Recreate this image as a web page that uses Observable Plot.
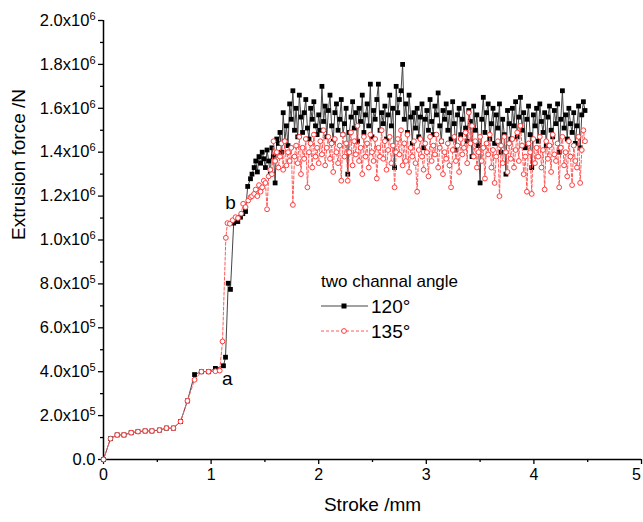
<!DOCTYPE html>
<html><head><meta charset="utf-8">
<script src="https://cdn.jsdelivr.net/npm/d3@7"></script>
<script src="https://cdn.jsdelivr.net/npm/@observablehq/plot@0.6"></script>
<style>
body{margin:0;background:#fff;font-family:"Liberation Sans",Arial,sans-serif;}
#wrap{position:relative;width:643px;height:522px;overflow:hidden;}
#legend{position:absolute;left:318px;top:266px;overflow:visible;}
</style></head><body><div id="wrap"></div>
<script>
// ---- data (stroke in mm, force in 10^6 N) ----
const strokeRamp120 = [0, 0.065, 0.127, 0.19, 0.257, 0.32, 0.387, 0.45, 0.52, 0.585, 0.65, 0.716, 0.78, 0.846, 0.91, 0.976, 1.04, 1.115, 1.134, 1.159, 1.18, 1.21, 1.248, 1.273, 1.295, 1.32, 1.34, 1.366, 1.38];
const forceRamp120 = [0, 0.095, 0.112, 0.112, 0.122, 0.127, 0.13, 0.13, 0.134, 0.143, 0.143, 0.173, 0.267, 0.387, 0.40, 0.40, 0.415, 0.427, 0.466, 0.803, 0.775, 1.077, 1.084, 1.104, 1.12, 1.13, 1.244, 1.279, 1.30];
const strokeRamp135 = [0, 0.065, 0.127, 0.19, 0.257, 0.32, 0.387, 0.45, 0.52, 0.585, 0.65, 0.716, 0.78, 0.846, 0.91, 0.976, 1.04, 1.08, 1.106, 1.137, 1.152, 1.174, 1.20, 1.227, 1.25, 1.28, 1.298, 1.32, 1.345, 1.366, 1.38];
const forceRamp135 = [0, 0.095, 0.112, 0.112, 0.122, 0.127, 0.13, 0.13, 0.134, 0.143, 0.143, 0.173, 0.267, 0.363, 0.40, 0.40, 0.402, 0.405, 0.538, 1.01, 1.077, 1.074, 1.09, 1.104, 1.10, 1.12, 1.165, 1.15, 1.18, 1.195, 1.20];
const strokePlateau = [
 1.400,1.415,1.430,1.445,1.460,1.475,1.490,1.505,1.520,1.535,
 1.550,1.565,1.580,1.595,1.610,1.625,1.640,1.655,1.670,1.685,
 1.700,1.715,1.730,1.745,1.760,1.775,1.790,1.805,1.820,1.835,
 1.850,1.865,1.880,1.895,1.910,1.925,1.940,1.955,1.970,1.985,
 2.000,2.015,2.030,2.045,2.060,2.075,2.090,2.105,2.120,2.135,
 2.150,2.165,2.180,2.195,2.210,2.225,2.240,2.255,2.270,2.285,
 2.300,2.315,2.330,2.345,2.360,2.375,2.390,2.405,2.420,2.435,
 2.450,2.465,2.480,2.495,2.510,2.525,2.540,2.555,2.570,2.585,
 2.600,2.615,2.630,2.645,2.660,2.675,2.690,2.705,2.720,2.735,
 2.750,2.765,2.780,2.795,2.810,2.825,2.840,2.855,2.870,2.885,
 2.900,2.915,2.930,2.945,2.960,2.975,2.990,3.005,3.020,3.035,
 3.050,3.065,3.080,3.095,3.110,3.125,3.140,3.155,3.170,3.185,
 3.200,3.215,3.230,3.245,3.260,3.275,3.290,3.305,3.320,3.335,
 3.350,3.365,3.380,3.395,3.410,3.425,3.440,3.455,3.470,3.485,
 3.500,3.515,3.530,3.545,3.560,3.575,3.590,3.605,3.620,3.635,
 3.650,3.665,3.680,3.695,3.710,3.725,3.740,3.755,3.770,3.785,
 3.800,3.815,3.830,3.845,3.860,3.875,3.890,3.905,3.920,3.935,
 3.950,3.965,3.980,3.995,4.010,4.025,4.040,4.055,4.070,4.085,
 4.100,4.115,4.130,4.145,4.160,4.175,4.190,4.205,4.220,4.235,
 4.250,4.265,4.280,4.295,4.310,4.325,4.340,4.355,4.370,4.385,
 4.400,4.415,4.430,4.445,4.460,4.475];
const forcePlateau120 = [
 1.33,1.36,1.31,1.38,1.35,1.40,1.37,1.33,1.41,1.36,
 1.30,1.42,1.38,1.26,1.46,1.44,1.49,1.40,1.58,1.45,
 1.52,1.43,1.62,1.55,1.68,1.50,1.60,1.47,1.66,1.56,
 1.49,1.58,1.64,1.51,1.46,1.60,1.55,1.63,1.52,1.48,
 1.57,1.50,1.70,1.54,1.61,1.47,1.59,1.66,1.52,1.45,
 1.58,1.62,1.50,1.55,1.64,1.48,1.53,1.60,1.30,1.49,
 1.56,1.63,1.51,1.58,1.45,1.60,1.54,1.66,1.49,1.57,
 1.62,1.52,1.71,1.47,1.59,1.55,1.64,1.71,1.50,1.58,
 1.53,1.61,1.46,1.57,1.66,1.52,1.60,1.33,1.70,1.58,
 1.64,1.68,1.80,1.55,1.62,1.49,1.66,1.56,1.44,1.58,
 1.51,1.60,1.47,1.56,1.62,1.42,1.55,1.59,1.50,1.64,
 1.54,1.48,1.61,1.57,1.67,1.52,1.45,1.59,1.55,1.62,
 1.50,1.58,1.46,1.63,1.53,1.41,1.57,1.60,1.48,1.55,
 1.62,1.51,1.45,1.59,1.54,1.38,1.61,1.50,1.57,1.43,
 1.26,1.55,1.65,1.49,1.58,1.62,1.46,1.53,1.60,1.44,
 1.57,1.51,1.62,1.40,1.55,1.48,1.30,1.59,1.53,1.46,
 1.60,1.52,1.63,1.47,1.56,1.65,1.50,1.58,1.42,1.55,
 1.61,1.48,1.33,1.57,1.52,1.60,1.45,1.62,1.54,1.49,
 1.58,1.43,1.56,1.61,1.50,1.47,1.59,1.53,1.62,1.40,
 1.55,1.68,1.51,1.57,1.46,1.60,1.53,1.49,1.58,1.44,
 1.52,1.61,1.42,1.57,1.63,1.59];
const forcePlateau135 = [
 1.21,1.23,1.20,1.25,1.22,1.24,1.27,1.26,1.14,1.29,
 1.32,1.30,1.45,1.36,1.40,1.33,1.38,1.44,1.32,1.45,
 1.34,1.40,1.36,1.42,1.16,1.38,1.43,1.35,1.47,1.30,
 1.42,1.37,1.46,1.24,1.40,1.44,1.33,1.48,1.38,1.42,
 1.35,1.45,1.39,1.50,1.34,1.42,1.47,1.37,1.44,1.31,
 1.46,1.40,1.35,1.43,1.27,1.48,1.38,1.44,1.27,1.40,
 1.49,1.34,1.45,1.39,1.52,1.36,1.42,1.30,1.47,1.38,
 1.44,1.33,1.48,1.40,1.36,1.46,1.28,1.42,1.38,1.50,
 1.37,1.45,1.32,1.41,1.47,1.35,1.43,1.24,1.40,1.46,
 1.39,1.50,1.34,1.44,1.36,1.48,1.31,1.42,1.38,1.45,
 1.35,1.22,1.41,1.46,1.38,1.32,1.44,1.40,1.29,1.47,
 1.36,1.43,1.39,1.48,1.33,1.42,1.45,1.30,1.40,1.37,
 1.44,1.34,1.24,1.41,1.47,1.36,1.43,1.31,1.46,1.39,
 1.42,1.49,1.35,1.58,1.44,1.52,1.38,1.45,1.33,1.40,
 1.47,1.36,1.42,1.28,1.44,1.39,1.48,1.33,1.41,1.26,
 1.38,1.45,1.20,1.43,1.35,1.47,1.40,1.31,1.44,1.37,
 1.46,1.33,1.41,1.49,1.36,1.52,1.43,1.30,1.38,1.22,
 1.44,1.40,1.21,1.46,1.35,1.42,1.38,1.47,1.33,1.41,
 1.23,1.45,1.37,1.43,1.31,1.48,1.39,1.36,1.44,1.24,
 1.42,1.47,1.34,1.40,1.29,1.45,1.38,1.25,1.43,1.36,
 1.33,1.47,1.26,1.41,1.50,1.45];
const xTicks = [0, 1, 2, 3, 4, 5];
const xMinorTicks = [0.5, 1.5, 2.5, 3.5, 4.5];
const yTicks = [0, 0.2, 0.4, 0.6, 0.8, 1.0, 1.2, 1.4, 1.6, 1.8, 2.0];
const yMinorTicks = [0.1, 0.3, 0.5, 0.7, 0.9, 1.1, 1.3, 1.5, 1.7, 1.9];
const seriesNames = ["120°", "135°"];
const legendTitle = "two channal angle";
const annotations = [{label: "a", x: 1.15, y: 0.368}, {label: "b", x: 1.18, y: 1.168}];
const xTitle = "Stroke /mm";
const yTitle = "Extrusion force /N";

// ---- build tables ----
const s120 = strokeRamp120.concat(strokePlateau);
const f120 = forceRamp120.concat(forcePlateau120);
const s135 = strokeRamp135.concat(strokePlateau);
const f135 = forceRamp135.concat(forcePlateau135);
const d120 = s120.map((x, i) => ({x, y: f120[i]}));
const d135 = s135.map((x, i) => ({x, y: f135[i]}));

const yFmt = v => v === 0 ? "0.0" : v >= 1 ? `${v.toFixed(1)}x10^6` : `${(v * 10).toFixed(1)}x10^5`;

const chart = Plot.plot({
  width: 643, height: 522,
  marginLeft: 103, marginRight: 2, marginTop: 20, marginBottom: 63,
  style: {fontFamily: "'Liberation Sans', Arial, sans-serif", fontSize: "15px", color: "#000", background: "#fff", overflow: "visible"},
  x: {domain: [0, 5]},
  y: {domain: [0, 2]},
  marks: [
    Plot.axisX(xTicks, {tickSize: 5, tickPadding: 4, strokeWidth: 1.3, fontSize: 16, tickFormat: d => String(d), label: null}),
    Plot.axisX(xMinorTicks, {tickSize: 3, strokeWidth: 1.3, tickFormat: () => "", label: null}),
    Plot.axisY(yTicks, {tickSize: 5, tickPadding: 3, strokeWidth: 1.3, fontSize: 16.5, tickFormat: yFmt, label: null}),
    Plot.axisY(yMinorTicks, {tickSize: 3, strokeWidth: 1.3, tickFormat: () => "", label: null}),
    Plot.ruleX([0], {stroke: "#000", strokeWidth: 1.5}),
    Plot.ruleY([0], {stroke: "#000", strokeWidth: 1.5}),
    Plot.line(d120, {x: "x", y: "y", stroke: "#444", strokeWidth: 1}),
    Plot.dot(d120, {x: "x", y: "y", symbol: "square", r: 2.7, fill: "#000", stroke: "none"}),
    Plot.line(d135, {x: "x", y: "y", stroke: "#ff5a5a", strokeWidth: 1, strokeDasharray: "3,2"}),
    Plot.dot(d135, {x: "x", y: "y", r: 2.4, fill: "#fff", stroke: "#ff3c3c", strokeWidth: 1}),
    Plot.text(annotations, {x: "x", y: "y", text: "label", fontSize: 19, fill: "#000"}),
    Plot.text([xTitle], {frameAnchor: "bottom", dy: 51, fontSize: 19, fill: "#000"}),
    Plot.text([yTitle], {frameAnchor: "left", dx: -85, rotate: -90, fontSize: 19, fill: "#000"})
  ]
});

// superscript exponents in y tick labels
const NS = "http://www.w3.org/2000/svg";
chart.querySelectorAll('g[aria-label="y-axis tick label"] text').forEach(t => {
  const s = t.textContent;
  if (!s.includes("^")) return;
  const [base, exp] = s.split("^");
  t.textContent = "";
  const a = document.createElementNS(NS, "tspan"); a.textContent = base;
  const b = document.createElementNS(NS, "tspan"); b.textContent = exp;
  b.setAttribute("dy", "-6"); b.setAttribute("font-size", "11");
  t.append(a, b);
});
// keep the last x tick label ("5") inside the page edge
chart.querySelectorAll('g[aria-label="x-axis tick label"] text').forEach(t => {
  if (t.textContent === "5") t.setAttribute("dx", "-5");
});

const wrap = document.getElementById("wrap");
wrap.appendChild(chart);

// legend
const lg = document.createElementNS(NS, "svg");
lg.setAttribute("id", "legend"); lg.setAttribute("width", "170"); lg.setAttribute("height", "80");
lg.style.fontFamily = "'Liberation Sans', Arial, sans-serif";
const mk = (tag, attrs, text) => { const e = document.createElementNS(NS, tag); for (const k in attrs) e.setAttribute(k, attrs[k]); if (text != null) e.textContent = text; lg.appendChild(e); return e; };
mk("text", {x: 3, y: 21, "font-size": 17}, legendTitle);
mk("line", {x1: 3, x2: 50, y1: 40, y2: 40, stroke: "#444", "stroke-width": 1});
mk("rect", {x: 23.5, y: 37.5, width: 5, height: 5, fill: "#000"});
mk("text", {x: 53, y: 47, "font-size": 19}, seriesNames[0]);
mk("line", {x1: 3, x2: 50, y1: 65, y2: 65, stroke: "#ff5a5a", "stroke-width": 1, "stroke-dasharray": "3,2"});
mk("circle", {cx: 26, cy: 65, r: 2.4, fill: "#fff", stroke: "#ff3c3c", "stroke-width": 1});
mk("text", {x: 53, y: 72, "font-size": 19}, seriesNames[1]);
wrap.appendChild(lg);
</script>
</body></html>
